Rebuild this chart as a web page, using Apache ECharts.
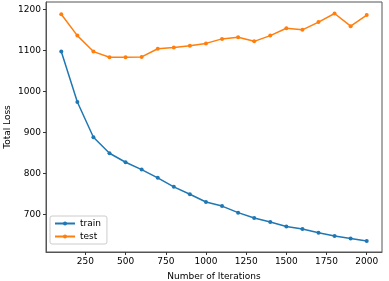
<!DOCTYPE html>
<html><head><meta charset="utf-8">
<script src="https://cdn.jsdelivr.net/npm/echarts@6/dist/echarts.min.js"></script>
<style>html,body{margin:0;padding:0;background:#fff}#c{width:389px;height:281px}</style>
</head><body><div id="c"></div>
<script>
var iterations = [100,200,300,400,500,600,700,800,900,1000,1100,1200,1300,1400,1500,1600,1700,1800,1900,2000];
var train = [1097,974,888,849,827,809,789,767,749,730,720,704,691,681,670,664,655,647,641,635];
var test = [1188,1136,1097,1083,1083,1084,1104,1107,1111,1117,1128,1132,1122,1136,1154,1150,1169,1190,1159,1186];
var xTicks = [250,500,750,1000,1250,1500,1750,2000];
var yTicks = [700,800,900,1000,1100,1200];

function pairs(xs, ys){ return xs.map(function(x,i){ return [x, ys[i]]; }); }
function plain(v){ return String(v); }
var font = 'DejaVu Sans';
var chart = echarts.init(document.getElementById('c'), null, {renderer:'canvas'});
chart.setOption({
  animation:false,
  grid:{left:46,right:7,top:2,bottom:29,show:true,borderColor:'#555',borderWidth:1,containLabel:false,outerBoundsMode:'none'},
  legend:{
    left:50, top:216, orient:'vertical',
    data:['train','test'],
    itemWidth:20, itemHeight:5, itemGap:4,
    padding:[3,6,3,4],
    borderColor:'#ccc', borderWidth:1, borderRadius:2,
    backgroundColor:'#fff',
    textStyle:{fontFamily:font,fontSize:9,color:'#000'}
  },
  xAxis:{
    type:'value', min:5, max:2095,
    name:'Number of Iterations', nameLocation:'middle', nameGap:20, nameMoveOverlap:false,
    nameTextStyle:{fontFamily:font,fontSize:9,color:'#000'},
    axisLine:{show:true,onZero:false,lineStyle:{color:'#555',width:1}},
    axisTick:{show:true,length:3,customValues:xTicks,lineStyle:{color:'#333'}},
    axisLabel:{customValues:xTicks,formatter:plain,fontFamily:font,fontSize:9,color:'#000',margin:5},
    splitLine:{show:false}
  },
  yAxis:{
    type:'value', min:608, max:1218,
    name:'Total Loss', nameLocation:'middle', nameGap:34, nameRotate:90, nameMoveOverlap:false,
    nameTextStyle:{fontFamily:font,fontSize:9,color:'#000'},
    axisLine:{show:true,onZero:false,lineStyle:{color:'#555',width:1}},
    axisTick:{show:true,length:3,customValues:yTicks,lineStyle:{color:'#333'}},
    axisLabel:{customValues:yTicks,formatter:plain,fontFamily:font,fontSize:9,color:'#000',margin:5},
    splitLine:{show:false}
  },
  series:[
    {name:'train',type:'line',data:pairs(iterations,train),color:'#1f77b4',
     symbol:'circle',symbolSize:4,showAllSymbol:true,lineStyle:{width:1.5,color:'#1f77b4'},itemStyle:{color:'#1f77b4'}},
    {name:'test',type:'line',data:pairs(iterations,test),color:'#ff7f0e',
     symbol:'circle',symbolSize:4,showAllSymbol:true,lineStyle:{width:1.5,color:'#ff7f0e'},itemStyle:{color:'#ff7f0e'}}
  ]
});
</script></body></html>
